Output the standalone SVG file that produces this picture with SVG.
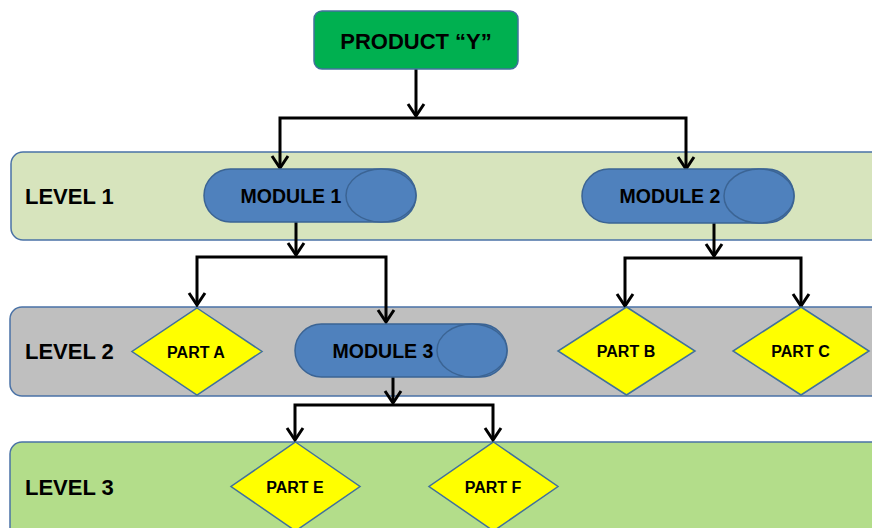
<svg xmlns="http://www.w3.org/2000/svg" width="872" height="528" viewBox="0 0 872 528">
<style>
.band{stroke:#4A72A6;stroke-width:1.5}
.mod{fill:#4F81BD;stroke:#3B6494;stroke-width:1.5}
.part{fill:#FFFF00;stroke:#41719C;stroke-width:1.5}
.conn{fill:none;stroke:#000;stroke-width:3;marker-end:url(#arr)}
.t{font-family:"Liberation Sans",Arial,sans-serif;font-weight:bold;fill:#000}
.lv{font-size:22px}
.mt{font-size:19.5px;text-anchor:middle}
.pt{font-size:16px;text-anchor:middle}
</style>
<defs>
<marker id="arr" markerUnits="userSpaceOnUse" viewBox="-15 -11 17 22" refX="0" refY="0" markerWidth="17" markerHeight="22" orient="auto">
<path d="M-12,-8 L0,0 L-12,8" fill="none" stroke="#000" stroke-width="3"/>
</marker>
</defs>
<rect width="872" height="528" fill="#fff"/>
<g id="lanes">
<rect class="band" x="11" y="152" width="880" height="88" rx="12" fill="#D7E4BD"/>
<text class="t lv" x="25" y="204">LEVEL 1</text>
<rect class="band" x="10" y="307" width="880" height="89" rx="12" fill="#BFBFBF"/>
<text class="t lv" x="25" y="359">LEVEL 2</text>
<rect class="band" x="10" y="442" width="880" height="110" rx="12" fill="#B3DD8A"/>
<text class="t lv" x="25" y="495">LEVEL 3</text>
</g>
<g id="connectors">
<path class="conn" d="M416,69 V116"/>
<path class="conn" d="M416,118 H280 V168"/>
<path class="conn" d="M416,118 H686 V169"/>
<path class="conn" d="M296,222 V255"/>
<path class="conn" d="M296,257 H197 V305"/>
<path class="conn" d="M296,257 H386 V322"/>
<path class="conn" d="M714,223 V256"/>
<path class="conn" d="M714,258 H625 V306"/>
<path class="conn" d="M714,258 H801 V306"/>
<path class="conn" d="M393,377 V403"/>
<path class="conn" d="M393,405 H295 V440"/>
<path class="conn" d="M393,405 H493 V440"/>
</g>
<g id="product">
<rect x="314" y="11" width="204" height="58" rx="8" fill="#00B050" stroke="#41719C" stroke-width="1.5"/>
<text class="t" x="416" y="49" font-size="22" text-anchor="middle">PRODUCT “Y”</text>
</g>
<g id="module1">
<rect class="mod" x="204" y="169" width="212" height="53" rx="26.5"/>
<ellipse class="mod" cx="381" cy="195.5" rx="35" ry="26.5"/>
<text class="t mt" x="291" y="203">MODULE 1</text>
</g>
<g id="module2">
<rect class="mod" x="582" y="169" width="212" height="54" rx="27"/>
<ellipse class="mod" cx="759" cy="196" rx="35" ry="27"/>
<text class="t mt" x="670" y="203">MODULE 2</text>
</g>
<g id="module3">
<rect class="mod" x="295" y="324" width="212" height="53" rx="26.5"/>
<ellipse class="mod" cx="472" cy="350.5" rx="35" ry="26.5"/>
<text class="t mt" x="383" y="358">MODULE 3</text>
</g>
<g id="partA">
<polygon class="part" points="197,308 262,351.5 197,395 132,351.5"/>
<text class="t pt" x="196" y="357.5">PART A</text>
</g>
<g id="partB">
<polygon class="part" points="626.5,307 695,351 626.5,395 558,351"/>
<text class="t pt" x="626" y="357">PART B</text>
</g>
<g id="partC">
<polygon class="part" points="801,307 869,351 801,395 733,351"/>
<text class="t pt" x="800.5" y="357">PART C</text>
</g>
<g id="partE">
<polygon class="part" points="295.5,442 360,486.5 295.5,531 231,486.5"/>
<text class="t pt" x="295" y="492.5">PART E</text>
</g>
<g id="partF">
<polygon class="part" points="493.5,442 558,486.5 493.5,531 429,486.5"/>
<text class="t pt" x="493" y="492.5">PART F</text>
</g>
</svg>
